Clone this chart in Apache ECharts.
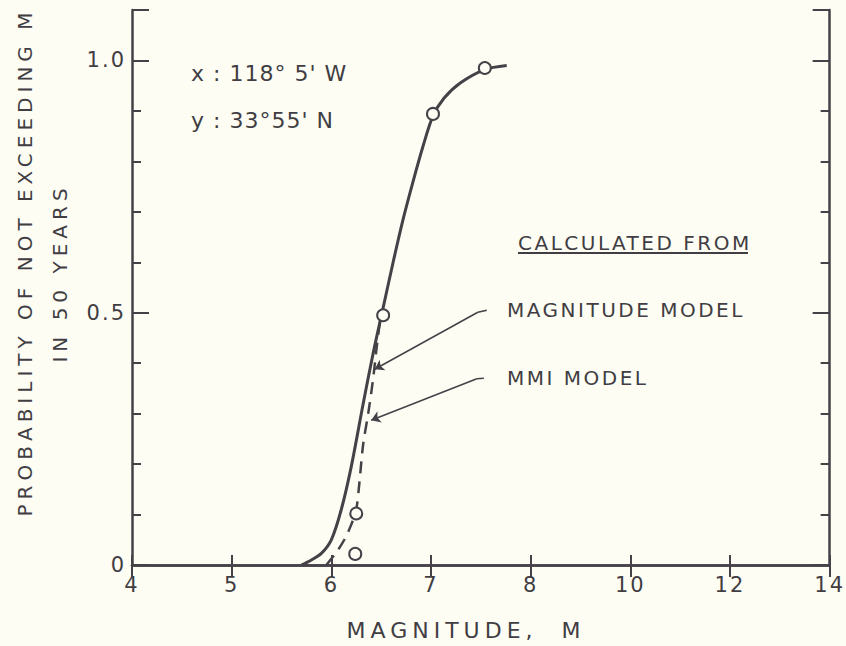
<!DOCTYPE html>
<html>
<head>
<meta charset="utf-8">
<script src="https://cdn.jsdelivr.net/npm/echarts@6/dist/echarts.min.js"></script>
<style>
html,body{margin:0;padding:0;background:#fdfdf4;}
#chart{width:846px;height:646px;}
text[style*="lsA"]{letter-spacing:5px;}
text[style*="lsT"]{letter-spacing:2px;}
text[style*="lsB"]{letter-spacing:2.5px;}
text[style*="lsC"]{letter-spacing:1px;}
</style>
</head>
<body>
<div id="chart"></div>
<script>
// ---- data ----
var xTickLabels = ['4', '5', '6', '7', '8', '10', '12', '14'];
var yTickValues = [0, 0.5, 1.0];
var yTickLabels = ['0', '0.5', '1.0'];

// Magnitude model (solid)
var magM = [5.70, 5.80, 5.90, 6.00, 6.10, 6.20, 6.32, 6.42, 6.52, 6.62, 6.72, 6.82, 6.92, 7.02, 7.13, 7.29, 7.54, 7.76];
var magP = [0, 0.01, 0.023, 0.05, 0.11, 0.195, 0.32, 0.42, 0.51, 0.60, 0.685, 0.76, 0.83, 0.89, 0.925, 0.955, 0.982, 0.99];

// MMI model (dashed)
var mmiM = [5.95, 6.05, 6.13, 6.20, 6.25, 6.28, 6.32, 6.37, 6.42, 6.46, 6.50];
var mmiP = [0, 0.025, 0.05, 0.08, 0.11, 0.16, 0.24, 0.30, 0.37, 0.44, 0.50];

// Plotted points (circles)
var ptM = [6.24, 6.25, 6.52, 7.02, 7.54];
var ptP = [0.022, 0.102, 0.495, 0.894, 0.985];

var INK = '#454147';
var TXT = '#413d43';
var BG = '#fdfdf4';
var FA = "'DejaVu Sans', lsA";
var FT = "'DejaVu Sans', lsT";
var FB = "'DejaVu Sans', lsB";
var FC = "'DejaVu Sans', lsC";

function zip(a, b) { return a.map(function (v, i) { return [v, b[i]]; }); }

var chart = echarts.init(document.getElementById('chart'), null, { renderer: 'svg' });

function yAx(pos, interval, len, showLine, showLabel) {
  return {
    type: 'value', position: pos, min: 0, max: 1.1, interval: interval,
    axisLine: { show: showLine, lineStyle: { color: INK, width: 2.5 } },
    axisTick: { show: true, inside: true, length: len, lineStyle: { color: INK, width: 2 } },
    splitLine: { show: false },
    axisLabel: {
      show: showLabel, margin: 6, color: TXT, fontSize: 21, fontFamily: FT,
      formatter: function (v) {
        for (var i = 0; i < yTickValues.length; i++) {
          if (Math.abs(v - yTickValues[i]) < 1e-9) return yTickLabels[i];
        }
        return '';
      }
    }
  };
}

function xAx(pos, len, showLabel) {
  return {
    type: 'value', position: pos, min: 4, max: 11, interval: 1,
    axisLine: { show: true, lineStyle: { color: INK, width: 2.5 } },
    axisTick: { show: true, inside: true, length: len, lineStyle: { color: INK, width: 2 } },
    splitLine: { show: false },
    axisLabel: {
      show: showLabel, margin: 9, color: TXT, fontSize: 21, fontFamily: FT,
      formatter: function (v) { return xTickLabels[Math.round(v - 4)]; }
    }
  };
}

var option = {
  backgroundColor: BG,
  animation: false,
  grid: { left: 132, right: 10, top: 10, bottom: 81 },
  xAxis: [xAx('bottom', 10, true), xAx('top', 12, false)],
  yAxis: [yAx('left', 0.1, 9, true, false), yAx('left', 0.5, 17, false, true),
          yAx('right', 0.1, 9, true, false), yAx('right', 0.5, 17, false, false)],
  series: [
    {
      name: 'MAGNITUDE MODEL', type: 'line', data: zip(magM, magP),
      smooth: 0.3, showSymbol: false, symbol: 'none',
      lineStyle: { color: INK, width: 3 }, z: 3,
      markLine: {
        silent: true, animation: false, symbolSize: 9,
        lineStyle: { color: INK, width: 1.5, type: 'solid' },
        label: { show: false },
        data: [
          [{ coord: [7.56, 0.505], symbol: 'none' }, { coord: [7.47, 0.501], symbol: 'none' }],
          [{ coord: [7.47, 0.501], symbol: 'none' }, { coord: [6.435, 0.388], symbol: 'arrow' }],
          [{ coord: [7.53, 0.370], symbol: 'none' }, { coord: [7.46, 0.369], symbol: 'none' }],
          [{ coord: [7.46, 0.369], symbol: 'none' }, { coord: [6.40, 0.287], symbol: 'arrow' }]
        ]
      }
    },
    {
      name: 'MMI MODEL', type: 'line', data: zip(mmiM, mmiP),
      smooth: 0.3, showSymbol: false, symbol: 'none',
      lineStyle: { color: INK, width: 2.5, type: [12, 8] }, z: 3
    },
    {
      name: 'points', type: 'scatter', data: zip(ptM, ptP),
      symbol: 'circle', symbolSize: 12,
      itemStyle: { color: BG, borderColor: INK, borderWidth: 2, opacity: 1 }, z: 5
    }
  ],
  graphic: [
    { type: 'text', x: 25, y: 262, rotation: Math.PI / 2,
      style: { text: 'PROBABILITY OF NOT EXCEEDING M', font: '20px ' + FA, fill: TXT, align: 'center', verticalAlign: 'middle' } },
    { type: 'text', x: 60, y: 273, rotation: Math.PI / 2,
      style: { text: 'IN 50 YEARS', font: '20px ' + FA, fill: TXT, align: 'center', verticalAlign: 'middle' } },
    { type: 'text', x: 466, y: 630,
      style: { text: 'MAGNITUDE,  M', font: '22px ' + FA, fill: TXT, align: 'center', verticalAlign: 'middle' } },
    { type: 'text', x: 191, y: 73.5,
      style: { text: "x : 118° 5' W", font: '22px ' + FC, fill: TXT, align: 'left', verticalAlign: 'middle' } },
    { type: 'text', x: 191, y: 120,
      style: { text: "y : 33°55' N", font: '22px ' + FC, fill: TXT, align: 'left', verticalAlign: 'middle' } },
    { type: 'text', x: 518, y: 242.5,
      style: { text: 'CALCULATED FROM', font: '20px ' + FB, fill: TXT, align: 'left', verticalAlign: 'middle' } },
    { type: 'line', shape: { x1: 518, y1: 253, x2: 748, y2: 253 }, style: { stroke: TXT, lineWidth: 2 } },
    { type: 'text', x: 507, y: 310,
      style: { text: 'MAGNITUDE MODEL', font: '20px ' + FB, fill: TXT, align: 'left', verticalAlign: 'middle' } },
    { type: 'text', x: 507, y: 378,
      style: { text: 'MMI MODEL', font: '20px ' + FB, fill: TXT, align: 'left', verticalAlign: 'middle' } }
  ]
};
chart.setOption(option);
</script>
</body>
</html>
